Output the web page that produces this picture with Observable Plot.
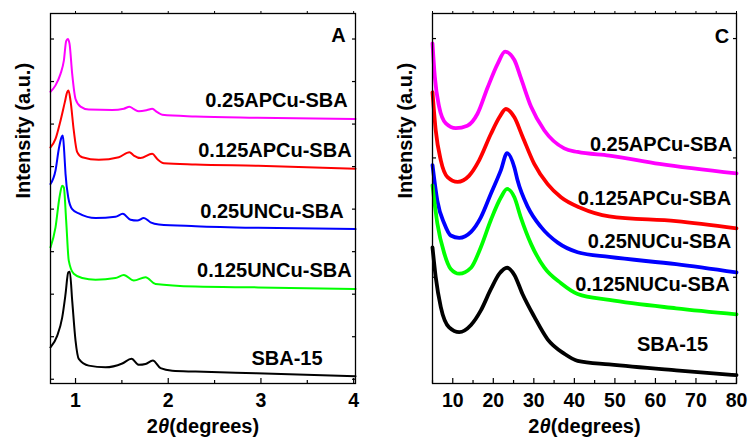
<!DOCTYPE html>
<html><head><meta charset="utf-8">
<script src="https://cdn.jsdelivr.net/npm/d3@7"></script>
<script src="https://cdn.jsdelivr.net/npm/@observablehq/plot@0.6"></script>
<style>
body{margin:0;background:#fff;}
#wrap{position:relative;width:750px;height:440px;background:#fff;}
#wrap svg{position:absolute;top:0;}
</style></head><body><div id="wrap"></div>
<script>
// ---------- Panel A: low-angle XRD ----------
const seriesNames = ["0.25APCu-SBA", "0.125APCu-SBA", "0.25UNCu-SBA", "0.125UNCu-SBA", "SBA-15"];
const seriesNamesC = ["0.25APCu-SBA", "0.125APCu-SBA", "0.25NUCu-SBA", "0.125NUCu-SBA", "SBA-15"];
const seriesColors = ["#ff00ff", "#ff0000", "#0000ff", "#00ff00", "#000000"];

const aApcu25X = [0.73,0.784,0.838,0.874,0.899,0.917,0.935,0.964,1.0,1.054,1.143,1.396,1.521,1.582,1.629,1.683,1.773,1.827,1.881,1.935,2.295,2.96,4.02];
const aApcu25Y = [6.76,6.91,7.18,7.49,7.95,8.00,7.89,7.18,6.59,6.41,6.34,6.33,6.36,6.41,6.35,6.30,6.33,6.36,6.28,6.22,6.18,6.15,6.12];
const aApcu125X = [0.73,0.784,0.838,0.884,0.91,0.924,0.946,0.981,1.018,1.072,1.251,1.467,1.582,1.629,1.701,1.827,1.881,1.953,2.295,2.97,4.02];
const aApcu125Y = [5.45,5.65,6.08,6.51,6.75,6.79,6.55,5.85,5.34,5.22,5.16,5.22,5.34,5.26,5.20,5.30,5.18,5.08,5.05,5.02,4.95];
const aUncu25X = [0.73,0.784,0.82,0.849,0.863,0.878,0.892,0.921,0.964,1.035,1.216,1.431,1.51,1.593,1.666,1.737,1.809,1.899,2.295,2.97,4.02];
const aUncu25Y = [4.59,4.91,5.42,5.69,5.73,5.35,4.83,4.28,4.00,3.90,3.79,3.82,3.89,3.75,3.73,3.79,3.69,3.64,3.60,3.56,3.53];
const aUncu125X = [0.73,0.784,0.827,0.856,0.874,0.899,0.927,0.981,1.072,1.216,1.431,1.521,1.629,1.755,1.863,2.295,2.97,4.02];
const aUncu125Y = [3.10,3.57,4.28,4.55,4.51,3.73,2.79,2.48,2.38,2.34,2.38,2.45,2.32,2.40,2.24,2.18,2.16,2.12];
const aSbaX = [0.73,0.802,0.856,0.892,0.921,0.938,0.964,1.0,1.035,1.143,1.323,1.504,1.604,1.683,1.755,1.834,1.917,2.043,2.295,2.95,4.02];
const aSbaY = [0.75,1.02,1.45,2.00,2.51,2.53,1.85,0.91,0.48,0.32,0.28,0.37,0.48,0.34,0.36,0.44,0.26,0.20,0.18,0.14,0.07];

const aXTicks = [1, 2, 3, 4];
const aXMinor = [1.5, 2.5, 3.5];
const aYTicks = [0, 1, 2, 3, 4, 5, 6, 7, 8];
const aLabelX = [3.935, 3.978, 3.892, 3.978, 3.665];
const aLabelY = [6.55, 5.38, 3.94, 2.55, 0.48];

// ---------- Panel C: wide-angle XRD ----------
const cApcu25X = [5,5.57,6.63,8.29,10.75,13.6,16.1,18.6,21.1,22.9,25.2,26.8,29.3,32.6,37.5,40.8,48.6,61,80];
const cApcu25Y = [2.96,2.68,2.43,2.29,2.25,2.27,2.37,2.59,2.79,2.89,2.82,2.67,2.43,2.23,2.08,2.05,2.02,1.95,1.87];
const cApcu125X = [5,5.8,7.05,8.7,11.2,14.0,16.5,19.4,21.5,23.1,25.2,27.2,30.1,33.4,36.7,41.6,48.6,65.1,80];
const cApcu125Y = [2.55,2.23,1.98,1.84,1.80,1.85,1.98,2.20,2.34,2.41,2.34,2.18,1.95,1.78,1.67,1.58,1.51,1.47,1.41];
const cNucu25X = [5,6.2,7.9,9.5,11.6,14.5,16.9,19.4,21.9,23.4,25.2,26.0,28.5,31.8,35.9,40.8,48.6,65.1,80];
const cNucu25Y = [1.94,1.64,1.45,1.35,1.33,1.38,1.50,1.70,1.90,2.04,1.92,1.81,1.59,1.42,1.29,1.21,1.17,1.11,1.04];
const cNucu125X = [5,6.2,7.9,9.5,11.6,14.5,16.9,19.4,21.9,23.4,25.2,26.8,29.3,32.6,36.7,40.8,48.6,65.1,80];
const cNucu125Y = [1.77,1.45,1.20,1.07,1.03,1.08,1.25,1.48,1.67,1.74,1.67,1.50,1.28,1.08,0.95,0.86,0.81,0.74,0.69];
const cSbaX = [5,5.8,7.05,9.1,11.6,14.5,16.9,19.4,21.5,23.4,25.2,27.2,30.1,33.4,37.5,40.8,48.6,65.1,80];
const cSbaY = [1.25,1.00,0.75,0.58,0.54,0.60,0.72,0.90,1.03,1.08,1.02,0.86,0.67,0.48,0.36,0.30,0.27,0.22,0.18];

const cXTicks = [10, 20, 30, 40, 50, 60, 70, 80];
const cXMinor = [5, 15, 25, 35, 45, 55, 65, 75];
const cYTicks = [1, 2, 3];
const cLabelX = [78.94, 78.7, 78.7, 78.3, 73.0];
const cLabelY = [2.11, 1.66, 1.30, 0.94, 0.44];

const FONT = "'Liberation Sans', Arial, sans-serif";

function rows(xs, ys, name) { return xs.map((x, i) => ({x, y: ys[i], name})); }

function panel({series, names, xDomain, yDomain, xTicks, xMinor, yTicks, labelX, labelY, letter, letterX, letterY, marginLeft, marginRight, lineWidth}) {
  const W = 375, H = 440, mt = 13, mb = 57;
  const iw = W - marginLeft - marginRight, ih = H - mt - mb;
  const data = series.flatMap(([xs, ys], i) => rows(xs, ys, names[i]));
  const labels = names.map((t, i) => ({t, x: labelX[i], y: labelY[i]}));
  const svg = Plot.plot({
    width: W, height: H, marginLeft, marginRight, marginTop: mt, marginBottom: mb,
    style: {fontFamily: FONT, color: "#000", background: "transparent", overflow: "visible"},
    x: {domain: xDomain, axis: null},
    y: {domain: yDomain, axis: null},
    color: {domain: names, range: seriesColors},
    marks: [
      Plot.line(data, {x: "x", y: "y", z: "name", stroke: "name", strokeWidth: lineWidth, curve: "monotone-x"}),
      Plot.frame({stroke: "#000", strokeWidth: 1.3}),
      Plot.tickX(xTicks, {x: d => d, insetTop: ih - 5, stroke: "#000", strokeWidth: 1.2}),
      Plot.tickX(xMinor, {x: d => d, insetTop: ih - 3, stroke: "#000", strokeWidth: 1.2}),
      Plot.tickX(xTicks.concat(xMinor), {x: d => d, insetTop: -2, insetBottom: ih, stroke: "#000", strokeWidth: 1}),
      Plot.tickY(yTicks, {y: d => d, insetRight: iw - 4, stroke: "#000", strokeWidth: 1.2}),
      Plot.tickY(yTicks, {y: d => d, insetLeft: iw - 3, stroke: "#000", strokeWidth: 1.2}),
      Plot.text(xTicks, {x: d => d, text: d => String(d), frameAnchor: "bottom", lineAnchor: "top", dy: 10, fontSize: 19.5, fontWeight: "bold", fill: "#000"}),
      Plot.text(labels, {x: "x", y: "y", text: "t", textAnchor: "end", lineAnchor: "middle", fontSize: 20, fontWeight: "bold", fill: "#000"}),
      Plot.text([letter], {x: () => letterX, y: () => letterY, text: d => d, textAnchor: "end", lineAnchor: "middle", fontSize: 20, fontWeight: "bold", fill: "#000"}),
      Plot.text(["Intensity (a.u.)"], {frameAnchor: "left", lineAnchor: "middle", rotate: -90, dx: -27, fontSize: 20, fontWeight: "bold", fill: "#000"}),
      Plot.text(["2θ(degrees)"], {frameAnchor: "bottom", lineAnchor: "middle", dy: 43, fontSize: 20, fontWeight: "bold", fill: "#000"})
    ]
  });
  d3.select(svg).selectAll("text").filter(function() { return this.textContent === "2θ(degrees)"; })
    .each(function() {
      const t = d3.select(this);
      t.text(null);
      t.append("tspan").text("2");
      t.append("tspan").attr("font-style", "italic").text("θ");
      t.append("tspan").text("(degrees)");
    });
  return svg;
}

const svgA = panel({
  series: [[aApcu25X, aApcu25Y], [aApcu125X, aApcu125Y], [aUncu25X, aUncu25Y], [aUncu125X, aUncu125Y], [aSbaX, aSbaY]],
  names: seriesNames, xDomain: [0.73, 4.02], yDomain: [-0.1, 8.6],
  xTicks: aXTicks, xMinor: aXMinor, yTicks: aYTicks, labelX: aLabelX, labelY: aLabelY,
  letter: "A", letterX: 3.913, letterY: 8.09, marginLeft: 50, marginRight: 20, lineWidth: 2
});
const svgC = panel({
  series: [[cApcu25X, cApcu25Y], [cApcu125X, cApcu125Y], [cNucu25X, cNucu25Y], [cNucu125X, cNucu125Y], [cSbaX, cSbaY]],
  names: seriesNamesC, xDomain: [5, 80], yDomain: [0.11, 3.21],
  xTicks: cXTicks, xMinor: cXMinor, yTicks: cYTicks, labelX: cLabelX, labelY: cLabelY,
  letter: "C", letterX: 78.2, letterY: 3.02, marginLeft: 57, marginRight: 14, lineWidth: 3.8
});
svgA.style.left = "0px";
svgC.style.left = "375px";
document.getElementById("wrap").append(svgA, svgC);
</script>
</body></html>
